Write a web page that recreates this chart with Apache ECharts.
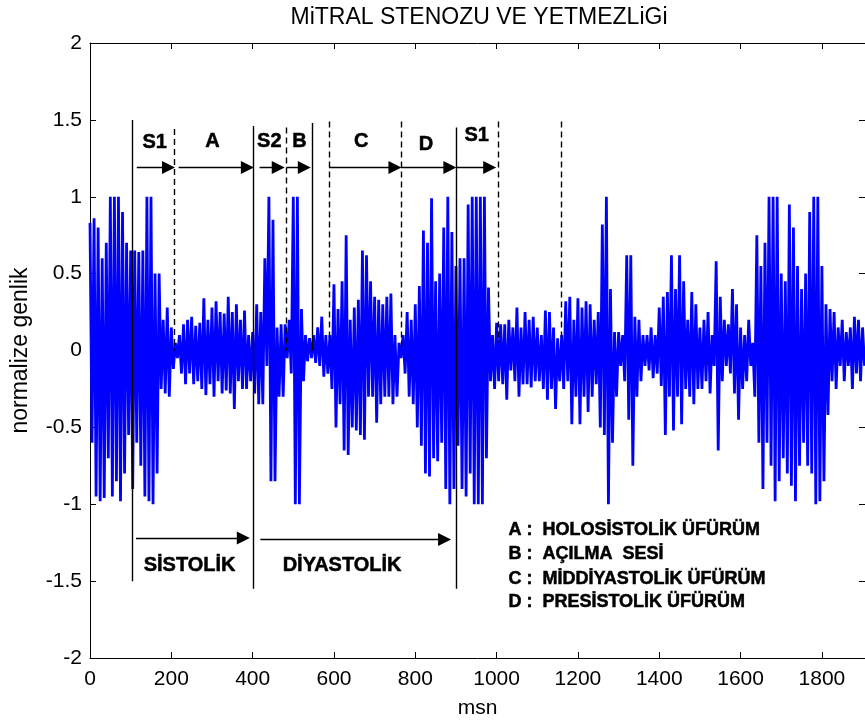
<!DOCTYPE html>
<html><head><meta charset="utf-8">
<script src="https://cdn.jsdelivr.net/npm/echarts@6/dist/echarts.min.js"></script>
<style>html,body{margin:0;padding:0;background:#fff}#c{width:865px;height:724px}</style>
</head><body><div id="c"></div>
<script>
// ---- signal envelope, read every 10 msn (upper peak, then lower peak 5 msn later) ----
const xStep = 10;
const upperEnv = [
 .83,.86,.8,.6,.7,1.0,1.0,1.0,.9,.7,
 .65,.65,.64,.65,1.0,1.0,.5,.5,.2,.28,
 .15,.05,.1,.17,.2,.22,.16,.18,.34,.2,
 .28,.32,.25,.24,.35,.25,.3,.2,.26,.1,
 .12,.3,.25,.6,1.0,.85,.15,.17,.17,.2,
 1.0,1.0,.27,.1,.08,.1,.15,.22,.1,.1,
 .43,.27,.45,.75,.2,.28,.33,.65,.62,.45,
 .35,.33,.3,.35,.37,.1,.05,.1,.25,.2,
 .3,.42,.78,.7,.99,.45,.5,.8,1.0,.77,
 .55,.6,.6,.95,1.0,1.0,1.0,1.0,.41,.1,
 .18,.17,.17,.2,.15,.28,.15,.25,.2,.22,
 .15,.1,.26,.25,.15,.08,.1,.32,.35,.2,
 .34,.28,.32,.3,.2,.25,.82,1.0,.4,.12,
 .12,.1,.62,.62,.22,.2,.1,.1,.15,.1,
 .28,.35,.38,.62,.4,.62,.45,.2,.38,.3,
 .15,.2,.25,.1,.58,.35,.2,.17,.4,.3,
 .15,.1,.2,.05,.75,.55,.7,1.0,1.0,1.0,
 .5,.45,.95,.8,.55,.4,.5,.9,1.0,1.0,
 .55,.3,.27,.25,.15,.2,.12,.15,.22,.2,
 .15
];
const lowerEnv = [
 -.6,-.95,-.98,-.96,-.7,-.95,-.85,-.98,-.8,-.55,
 -.9,-.6,-.75,-.95,-.98,-1.0,-.8,-.25,-.28,-.3,
 -.12,-.05,-.15,-.22,-.15,-.22,-.2,-.25,-.29,-.22,
 -.3,-.2,-.28,-.26,-.28,-.38,-.2,-.25,-.25,-.2,
 -.28,-.35,-.35,-.1,-.85,-.85,-.3,-.3,-.05,-.15,
 -1.0,-1.0,-.2,-.07,-.05,-.08,-.1,-.17,-.15,-.25,
 -.5,-.35,-.65,-.68,-.5,-.52,-.55,-.58,-.3,-.3,
 -.47,-.35,-.3,-.3,-.35,-.3,-.05,-.15,-.3,-.35,
 -.5,-.62,-.8,-.82,-.7,-.72,-.6,-.9,-1.0,-.9,
 -.62,-.9,-.95,-.8,-1.0,-1.0,-1.0,-.7,-.2,-.25,
 -.2,-.22,-.32,-.13,-.2,-.3,-.22,-.22,-.24,-.2,
 -.2,-.25,-.32,-.25,-.38,-.2,-.25,-.2,-.48,-.3,
 -.48,-.3,-.4,-.3,-.22,-.5,-.55,-1.0,-.6,-.3,
 -.1,-.2,-.45,-.75,-.3,-.2,-.1,-.13,-.18,-.15,
 -.23,-.55,-.3,-.52,-.3,-.48,-.25,-.3,-.35,-.25,
 -.25,-.2,-.28,-.1,-.65,-.2,-.1,-.15,-.28,-.45,
 -.25,-.2,-.1,-.3,-.6,-.9,-.6,-.75,-.98,-.85,
 -.7,-.8,-.88,-.98,-.75,-.6,-.75,-.8,-1.0,-.98,
 -.85,-.42,-.2,-.25,-.1,-.2,-.1,-.25,-.15,-.2,
 -.1
];

// ---- annotations (data coordinates: msn, amplitude) ----
const solidMarkers  = [[105, 1.50, -1.50], [402, 1.46, -1.55], [547, 1.48, 0.0], [900, 1.45, -1.55]];
const dashedMarkers = [[208, 1.44, 0.0], [483, 1.45, 0.0], [588, 1.49, 0.05], [765, 1.49, 0.0], [1005, 1.49, 0.05], [1159, 1.49, 0.05]];
const topArrows     = [[115, 193, 1.19], [218, 387, 1.19], [417, 463, 1.19], [483, 527, 1.19], [588, 750, 1.19], [765, 885, 1.19], [900, 983, 1.19]];
const bottomArrows  = [[113, 377, -1.22], [419, 872, -1.23]];
const topLabels     = [['S1', 159, 1.35], ['A', 301, 1.36], ['S2', 441, 1.36], ['B', 515, 1.36], ['C', 667, 1.36], ['D', 826, 1.34], ['S1', 951, 1.40]];
const phaseLabels   = [['SİSTOLİK', 245, -1.40], ['DİYASTOLİK', 620, -1.40]];
const legendTexts   = ['A :  HOLOSİSTOLİK ÜFÜRÜM', 'B :  AÇILMA  SESİ', 'C :  MİDDİYASTOLİK ÜFÜRÜM', 'D :  PRESİSTOLİK ÜFÜRÜM'];
const legendX = 1029;
const legendY = [-1.17, -1.325, -1.487, -1.636];

const titleText = 'MiTRAL STENOZU VE YETMEZLiGi';
const xName = 'msn';
const yName = 'normalize genlik';
const xMin = 0, xMax = 1906, xInterval = 200;
const yMin = -2, yMax = 2, yInterval = 0.5;

const signal = [];
upperEnv.forEach((u, i) => {
  signal.push([i * xStep, u]);
  signal.push([i * xStep + xStep / 2, lowerEnv[i]]);
});

const plainFont = 'Liberation Sans, Arial, sans-serif';
const boldFont = 'Liberation Sans, Arial, sans-serif';

const chart = echarts.init(document.getElementById('c'), null, {renderer: 'canvas'});
const frameAxis = {
  axisLine: {show: true, onZero: false, lineStyle: {color: '#000', width: 1}},
  axisTick: {show: true, inside: true, length: 6, lineStyle: {color: '#000'}},
  splitLine: {show: false}
};
const numFmt = v => String(v);
chart.setOption({
  animation: false,
  backgroundColor: '#fff',
  grid: {left: 90, top: 43, right: -3, bottom: 65, containLabel: false},
  xAxis: [
    Object.assign({
      type: 'value', min: xMin, max: xMax, interval: xInterval, position: 'bottom',
      name: xName, nameLocation: 'middle', nameGap: 40,
      nameTextStyle: {fontFamily: plainFont, fontSize: 21, color: '#000'},
      axisLabel: {color: '#000', fontFamily: plainFont, fontSize: 21, margin: 11, showMaxLabel: false, formatter: numFmt}
    }, frameAxis),
    Object.assign({
      type: 'value', min: xMin, max: xMax, interval: xInterval, position: 'top',
      axisLabel: {show: false}
    }, frameAxis)
  ],
  yAxis: [
    Object.assign({
      type: 'value', min: yMin, max: yMax, interval: yInterval, position: 'left',
      name: yName, nameLocation: 'middle', nameGap: 58,
      nameTextStyle: {fontFamily: plainFont, fontSize: 23, color: '#000'},
      axisLabel: {color: '#000', fontFamily: plainFont, fontSize: 21, margin: 8, formatter: numFmt}
    }, frameAxis),
    Object.assign({
      type: 'value', min: yMin, max: yMax, interval: yInterval, position: 'right',
      axisLabel: {show: false}
    }, frameAxis)
  ],
  series: [
    {
      type: 'line', data: signal, symbol: 'none', showSymbol: false, sampling: null,
      lineStyle: {color: '#0000ff', width: 2.8, join: 'miter', miterLimit: 3}, z: 2, silent: true
    },
    {
      type: 'lines', coordinateSystem: 'cartesian2d', polyline: false, z: 5, silent: true,
      data: solidMarkers.map(([x, a, b]) => ({coords: [[x, a], [x, b]]})),
      symbol: 'none', lineStyle: {color: '#000', width: 1.4, type: 'solid', opacity: 1}
    },
    {
      type: 'lines', coordinateSystem: 'cartesian2d', polyline: false, z: 5, silent: true,
      data: dashedMarkers.map(([x, a, b]) => ({coords: [[x, a], [x, b]]})),
      symbol: 'none', lineStyle: {color: '#000', width: 1.4, type: [6, 4], opacity: 1}
    },
    {
      type: 'lines', coordinateSystem: 'cartesian2d', polyline: false, z: 6, silent: true,
      data: topArrows.concat(bottomArrows).map(([a, b, y]) => ({coords: [[a, y], [b, y]]})),
      symbol: ['none', 'triangle'], symbolSize: 13,
      lineStyle: {color: '#000', width: 1.4, type: 'solid', opacity: 1}
    }
  ]
});

// text annotations placed through the chart's own coordinate conversion
const toPx = (x, y) => chart.convertToPixel({gridIndex: 0}, [x, y]);
const graphics = [{
  type: 'text', x: 479, y: 6, z: 100,
  style: {text: titleText, textAlign: 'center', textVerticalAlign: 'top', fontFamily: plainFont, fontSize: 23, fill: '#000'}
}];
topLabels.concat(phaseLabels).forEach(([t, x, y]) => {
  const p = toPx(x, y);
  graphics.push({type: 'text', x: p[0], y: p[1], z: 100, style: {
    text: t, textAlign: 'center', textVerticalAlign: 'middle', fill: '#000', stroke: '#000', lineWidth: 0.5,
    fontFamily: boldFont, fontWeight: 'bold', fontSize: 20}});
});
legendTexts.forEach((t, i) => {
  const p = toPx(legendX, legendY[i]);
  graphics.push({type: 'text', x: p[0], y: p[1], z: 100, style: {
    text: t, textAlign: 'left', textVerticalAlign: 'middle', fill: '#000', stroke: '#000', lineWidth: 0.5,
    fontFamily: boldFont, fontWeight: 'bold', fontSize: 18}});
});
chart.setOption({graphic: graphics});
</script></body></html>
